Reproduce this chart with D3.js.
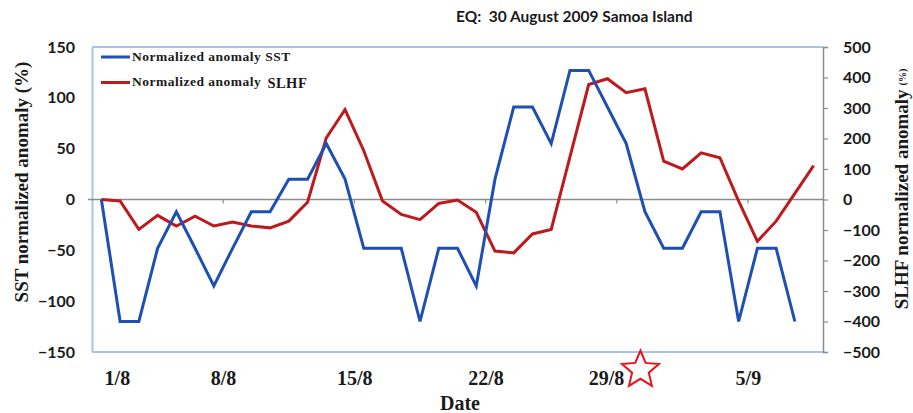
<!DOCTYPE html>
<html>
<head>
<meta charset="utf-8">
<script src="https://cdn.jsdelivr.net/npm/d3@7"></script>
<style>
  html, body { margin: 0; padding: 0; background: #ffffff; }
  svg { display: block; }
</style>
</head>
<body>
<svg id="chart" width="913" height="413"></svg>
<script>
// ---------------- DATA ----------------
const categories = [
  "1/8","2/8","3/8","4/8","5/8","6/8","7/8","8/8","9/8","10/8",
  "11/8","12/8","13/8","14/8","15/8","16/8","17/8","18/8","19/8","20/8",
  "21/8","22/8","23/8","24/8","25/8","26/8","27/8","28/8","29/8","30/8",
  "31/8","1/9","2/9","3/9","4/9","5/9","6/9","7/9","8/9"
];
const sstValues = [
  0, -120, -120, -48, -12, -48, -85, -48, -12, -12,
  20, 20, 55, 20, -48, -48, -48, -120, -48, -48,
  -85, 20, 91, 91, 55, 127, 127, 91, 55, -12,
  -48, -48, -12, -12, -120, -48, -48, -120
];
const slhfValues = [
  0, -5, -98, -52, -87, -55, -87, -74, -87, -93,
  -71, -9, 202, 295, 160, -5, -49, -66, -13, -2,
  -42, -169, -175, -113, -98, 140, 377, 396, 350, 363,
  126, 100, 153, 137, -5, -137, -71, 20, 111
];
const xTickLabels = ["1/8","8/8","15/8","22/8","29/8","5/9"];
const leftTicks = [-150, -100, -50, 0, 50, 100, 150];
const rightTicks = [-500, -400, -300, -200, -100, 0, 100, 200, 300, 400, 500];
const seriesNames = ["Normalized anomaly SST", "Normalized anomaly"];
const earthquakeDate = "30/8";
const titleText = "EQ:  30 August 2009 Samoa Island";

// ---------------- LAYOUT ----------------
const svg = d3.select("#chart");
const plot = { left: 92, right: 823, top: 47, bottom: 352 };
const blue = "#1d4fb4", red = "#bd1a1e", frameBlue = "#a9c3e6", grey = "#8c8c8c";
const numFont = "Lato, 'Open Sans', sans-serif";
const serif = "'Liberation Serif', 'DejaVu Serif', serif";

const x = d3.scaleBand().domain(categories).range([plot.left, plot.right]).padding(0);
const xc = d => x(d) + x.bandwidth() / 2;
const yL = d3.scaleLinear().domain([-150, 150]).range([plot.bottom, plot.top]);
const yR = d3.scaleLinear().domain([-500, 500]).range([plot.bottom, plot.top]);

// Frame (top / bottom / left in light blue)
svg.append("line").attr("x1", plot.left).attr("x2", plot.right).attr("y1", plot.top).attr("y2", plot.top)
  .attr("stroke", frameBlue).attr("stroke-width", 2);
svg.append("line").attr("x1", plot.left).attr("x2", plot.right).attr("y1", plot.bottom).attr("y2", plot.bottom)
  .attr("stroke", frameBlue).attr("stroke-width", 2);

// Left axis
const gL = svg.append("g").attr("transform", `translate(${plot.left},0)`)
  .call(d3.axisLeft(yL).tickValues(leftTicks).tickSize(0).tickPadding(17).tickFormat(d3.format("d")));
gL.select(".domain").attr("stroke", frameBlue).attr("stroke-width", 2);
gL.selectAll("text").attr("font-family", numFont).attr("font-weight", "bold")
  .attr("font-size", 16).attr("fill", "#1a1a1a");

// Right axis
const gR = svg.append("g").attr("transform", `translate(${plot.right},0)`)
  .call(d3.axisRight(yR).tickValues(rightTicks).tickSize(5).tickPadding(15).tickFormat(d3.format("d")));
gR.select(".domain").attr("stroke", grey).attr("stroke-width", 1.5);
gR.selectAll(".tick line").attr("stroke", grey).attr("stroke-width", 1.2);
gR.selectAll("text").attr("font-family", numFont).attr("font-weight", "bold")
  .attr("font-size", 16).attr("fill", "#1a1a1a");

// Zero line (category axis) with small ticks every 7 categories
svg.append("line").attr("x1", plot.left - 4).attr("x2", plot.right).attr("y1", yL(0)).attr("y2", yL(0))
  .attr("stroke", grey).attr("stroke-width", 1.5);
const tickCats = categories.filter((d, i) => i > 0 && i % 7 === 0);
svg.selectAll(".xtick").data(tickCats).enter().append("line")
  .attr("x1", d => x(d)).attr("x2", d => x(d))
  .attr("y1", yL(0)).attr("y2", yL(0) + 4)
  .attr("stroke", grey).attr("stroke-width", 1.2);

// Earthquake star marker (outline)
const starR = 19.5, starCx = xc(earthquakeDate) - 4.5, starCy = 370;

// X tick labels (the label next to the star is nudged left of it)
svg.selectAll(".xlab").data(xTickLabels).enter().append("text")
  .attr("x", (d, i) => {
    if (i === 0) return xc(d) + 16;
    const cx = xc(d) - 9;
    const overlaps = (cx + 19 > starCx - 15) && (cx - 19 < starCx + 15);
    return overlaps ? starCx - 15 - 19 : cx;
  })
  .attr("y", 385)
  .attr("text-anchor", "middle")
  .attr("font-family", serif).attr("font-weight", "bold").attr("font-size", 20)
  .attr("fill", "#1a1a1a")
  .text(d => d);

// Lines
const lineL = d3.line().x((d, i) => xc(categories[i])).y(d => yL(d));
const lineR = d3.line().x((d, i) => xc(categories[i])).y(d => yR(d));
svg.append("path").datum(slhfValues).attr("d", lineR)
  .attr("fill", "none").attr("stroke", red).attr("stroke-width", 3).attr("stroke-linejoin", "miter");
svg.append("path").datum(sstValues).attr("d", lineL)
  .attr("fill", "none").attr("stroke", blue).attr("stroke-width", 3).attr("stroke-linejoin", "miter");

// Legend
const legX = 101;
svg.append("line").attr("x1", legX).attr("x2", legX + 29).attr("y1", 57).attr("y2", 57)
  .attr("stroke", blue).attr("stroke-width", 3);
svg.append("text").attr("x", legX + 31).attr("y", 61)
  .attr("font-family", serif).attr("font-weight", "bold").attr("font-size", 13.5)
  .attr("letter-spacing", 0.5).attr("fill", "#1a1a1a")
  .text(seriesNames[0]);
svg.append("line").attr("x1", legX).attr("x2", legX + 29).attr("y1", 82.5).attr("y2", 82.5)
  .attr("stroke", red).attr("stroke-width", 3);
const t2 = svg.append("text").attr("x", legX + 31).attr("y", 86)
  .attr("font-family", serif).attr("font-weight", "bold").attr("font-size", 13.5)
  .attr("letter-spacing", 0.5).attr("fill", "#1a1a1a");
t2.append("tspan").text(seriesNames[1]);
t2.append("tspan").attr("dx", 6).attr("dy", 2).attr("font-size", 14.5).text("SLHF");

// Title
svg.append("text").attr("x", 456).attr("y", 22)
  .attr("font-family", numFont).attr("font-weight", "bold").attr("font-size", 15.5).attr("fill", "#1a1a1a")
  .attr("xml:space", "preserve").style("white-space", "pre")
  .text(titleText);

// Axis titles
svg.append("text").attr("transform", "translate(28,182) rotate(-90)")
  .attr("text-anchor", "middle")
  .attr("font-family", serif).attr("font-weight", "bold").attr("font-size", 19).attr("fill", "#1a1a1a")
  .text("SST normalized anomaly (%)");
const rt = svg.append("text").attr("transform", "translate(908,189) rotate(-90)")
  .attr("text-anchor", "middle")
  .attr("font-family", serif).attr("font-weight", "bold").attr("font-size", 19).attr("fill", "#1a1a1a");
rt.append("tspan").text("SLHF normalized anomaly");
rt.append("tspan").attr("dx", 4).attr("font-size", 10).attr("dy", -2).text("(%)");

svg.append("text").attr("x", 460).attr("y", 410).attr("text-anchor", "middle")
  .attr("font-family", serif).attr("font-weight", "bold").attr("font-size", 20).attr("fill", "#1a1a1a")
  .text("Date");

const starPts = d3.range(10).map(i => {
  const r = i % 2 === 0 ? starR : starR * 0.45;
  const a = -Math.PI / 2 + i * Math.PI / 5;
  return [starCx + r * Math.cos(a), starCy + r * Math.sin(a)];
});
svg.append("polygon").attr("points", starPts.map(p => p.join(",")).join(" "))
  .attr("fill", "#ffffff").attr("stroke", "#e8141b").attr("stroke-width", 2);
</script>
</body>
</html>
